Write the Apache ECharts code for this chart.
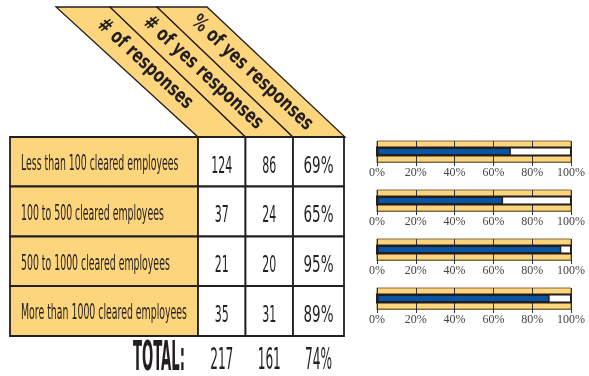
<!DOCTYPE html>
<html>
<head>
<meta charset="utf-8">
<script src="https://cdn.jsdelivr.net/npm/echarts@6/dist/echarts.min.js"></script>
<style>
html,body{margin:0;padding:0;background:#fff;}
#c{width:589px;height:376px;}
</style>
</head>
<body>
<div id="c"></div>
<script>
// ---- data ----
const headers = ['# of responses', '# of yes responses', '% of yes responses'];
const categories = ['Less than 100 cleared employees', '100 to 500 cleared employees', '500 to 1000 cleared employees', 'More than 1000 cleared employees'];
const responses = [124, 37, 21, 35];
const yesResponses = [86, 24, 20, 31];
const yesPercent = [69, 65, 95, 89];
const totalLabel = 'TOTAL:';
const totalValues = [217, 161, 74];
const axisTicks = [0, 20, 40, 60, 80, 100];

// ---- styles ----
const YELLOW = '#FDD57C', DARK = '#231F20', BLUE = '#0A55A3';
const FAMILY = '"Liberation Sans Narrow", "DejaVu Sans Condensed", "Arial Narrow", Arial, sans-serif';
const SERIF = '"Liberation Serif", "DejaVu Serif", serif';

const cv = document.createElement('canvas').getContext('2d');
function measure(text, size, weight) {
  cv.font = (weight || 'normal') + ' ' + size + 'px ' + FAMILY;
  return cv.measureText(text).width;
}
// group scale factors to emulate the very condensed face
const LABEL_SIZE = 21, NUM_SIZE = 23, HEAD_SIZE = 20, TOTAL_SIZE = 40, TOTNUM_SIZE = 30;
const sLabel = 166 / measure(categories[3], LABEL_SIZE);
const sNum = 21 / measure('124', NUM_SIZE);
const sPct = 30 / measure('69%', NUM_SIZE);
const sHead = 156 / measure(headers[1], HEAD_SIZE, 'bold');
const sTotal = 52 / measure(totalLabel, TOTAL_SIZE, 'bold');
const sTotNum = 27 / measure('74%', TOTNUM_SIZE);

// ---- layout ----
const colX = [10, 198, 245.5, 293, 344];
const rowY = [137, 186.5, 236.5, 286, 336];
const headTopY = 7;
const headTopX = [56, 110, 157, 207];
const headBotX = [198, 245.5, 293, 345];
const headCenters = [[145, 64], [203, 73], [252, 73]];
const ROT = -43 * Math.PI / 180;

function txt(text, x, y, size, scale, opts) {
  opts = opts || {};
  return {
    type: 'text', x: x, y: y, scaleX: scale, rotation: opts.rotation || 0, z: 10,
    style: {
      text: String(text), fill: DARK,
      fontSize: size, fontFamily: FAMILY, fontWeight: opts.weight || 'normal',
      textAlign: opts.align || 'center', align: opts.align || 'center',
      textVerticalAlign: 'middle', verticalAlign: 'middle'
    }
  };
}

const graphics = [];
// header parallelograms
for (let i = 0; i < headers.length; i++) {
  graphics.push({
    type: 'polygon', z: 1,
    shape: { points: [[headTopX[i], headTopY], [headTopX[i + 1], headTopY], [headBotX[i + 1], rowY[0]], [headBotX[i], rowY[0]]] },
    style: { fill: YELLOW, stroke: DARK, lineWidth: 1.3, lineJoin: 'miter' }
  });
  graphics.push(txt(headers[i], headCenters[i][0], headCenters[i][1], HEAD_SIZE, sHead, { rotation: ROT, weight: 'bold' }));
}
// table cells
const colVals = [responses, yesResponses, yesPercent.map(v => v + '%')];
for (let r = 0; r < categories.length; r++) {
  const y0 = rowY[r], y1 = rowY[r + 1], cy = (y0 + y1) / 2;
  graphics.push({
    type: 'rect', z: 2, shape: { x: colX[0], y: y0, width: colX[1] - colX[0], height: y1 - y0 },
    style: { fill: YELLOW, stroke: DARK, lineWidth: 1.8 }
  });
  graphics.push(txt(categories[r], colX[0] + 11, cy + 3, LABEL_SIZE, sLabel, { align: 'left' }));
  for (let c = 0; c < 3; c++) {
    graphics.push({
      type: 'rect', z: 2, shape: { x: colX[c + 1], y: y0, width: colX[c + 2] - colX[c + 1], height: y1 - y0 },
      style: { fill: '#fff', stroke: DARK, lineWidth: 1.8 }
    });
    graphics.push(txt(colVals[c][r], (colX[c + 1] + colX[c + 2]) / 2, cy + 5, NUM_SIZE, c === 2 ? sPct : sNum));
  }
}
// totals
graphics.push(txt(totalLabel, 185, 360, TOTAL_SIZE, sTotal, { align: 'right', weight: 'bold' }));
const totStrs = [totalValues[0], totalValues[1], totalValues[2] + '%'];
for (let c = 0; c < 3; c++) {
  graphics.push(txt(totStrs[c], (colX[c + 1] + colX[c + 2]) / 2, 361, TOTNUM_SIZE, sTotNum));
}

// ---- mini bar charts ----
const grids = [], xAxes = [], yAxes = [], series = [];
for (let i = 0; i < categories.length; i++) {
  grids.push({ left: 377, width: 194, top: 141 + i * 49, height: 21, show: true, backgroundColor: YELLOW, borderColor: '#7a6a45', borderWidth: 1 });
  xAxes.push({
    type: 'value', gridIndex: i, min: axisTicks[0], max: axisTicks[axisTicks.length - 1], interval: axisTicks[1] - axisTicks[0],
    axisLine: { show: true, lineStyle: { color: '#7a6a45', width: 1 } },
    axisTick: { show: true, length: 4, lineStyle: { color: '#333', width: 1 } },
    splitLine: { show: true, lineStyle: { color: '#333', width: 1 } },
    axisLabel: { formatter: '{value}%', fontFamily: SERIF, fontSize: 12, color: '#444', margin: 5 }
  });
  yAxes.push({ type: 'category', gridIndex: i, data: [categories[i]], show: false });
  series.push({
    type: 'bar', xAxisIndex: i, yAxisIndex: i, data: [yesPercent[i]], barWidth: 8, z: 3,
    showBackground: true,
    backgroundStyle: { color: '#fff', borderColor: DARK, borderWidth: 2 },
    itemStyle: { color: BLUE, borderColor: DARK, borderWidth: 1.5 },
    silent: true, animation: false
  });
}

const chart = echarts.init(document.getElementById('c'), null, { renderer: 'canvas' });
chart.setOption({
  animation: false,
  backgroundColor: '#fff',
  grid: grids, xAxis: xAxes, yAxis: yAxes, series: series,
  graphic: { elements: graphics }
});
</script>
</body>
</html>
